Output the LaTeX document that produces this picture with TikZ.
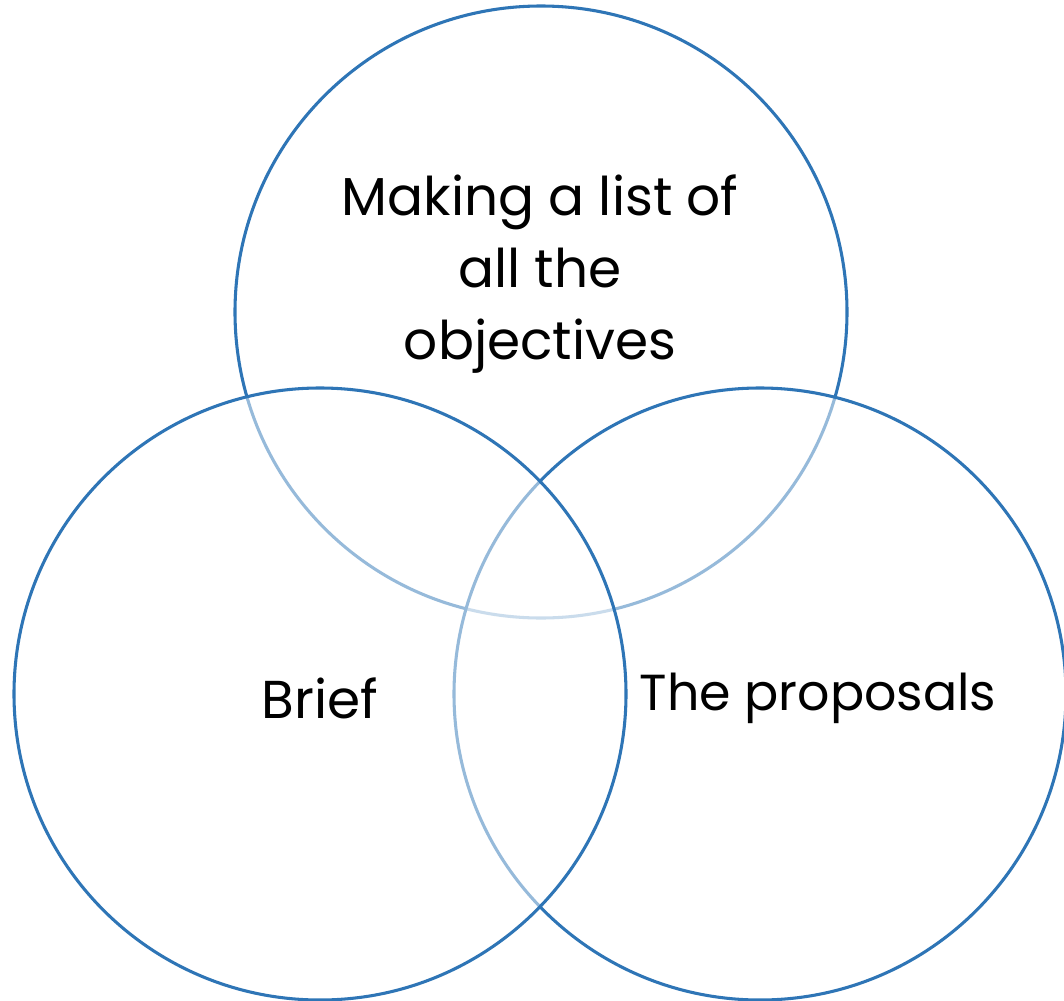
\documentclass[tikz,border=0pt]{standalone}
\usepackage{fontspec}
\setmainfont{Poppins}
\usepackage{tikz}
\usetikzlibrary{positioning}
\definecolor{ringblue}{RGB}{46,117,182}

\begin{document}
\begin{tikzpicture}[
    x=0.75pt, y=-0.75pt,
    ring/.style={circle, draw=ringblue, line width=2.3pt, fill=white, fill opacity=0.5, draw opacity=1, minimum size=459pt, inner sep=0pt},
    setname/.style={align=center, font=\fontsize{40}{54}\selectfont, text=black}
]
\useasboundingbox (0,0) rectangle (1064,1000);
% the three sets, later ones wash out the lines below them
\node[ring] (cTop) at (541,312) {};
\node[ring] (cRight) at (760,694) {};
\node[ring] (cLeft) at (320,694) {};

\node[setname] (goals) at (540,274) {Making a list of\\all the\\objectives};
\node[setname] (brief) at (320,698) {Brief};
\node[setname, font=\fontsize{38}{54}\selectfont] (props) at (818,698) {The proposals};
\end{tikzpicture}
\end{document}
